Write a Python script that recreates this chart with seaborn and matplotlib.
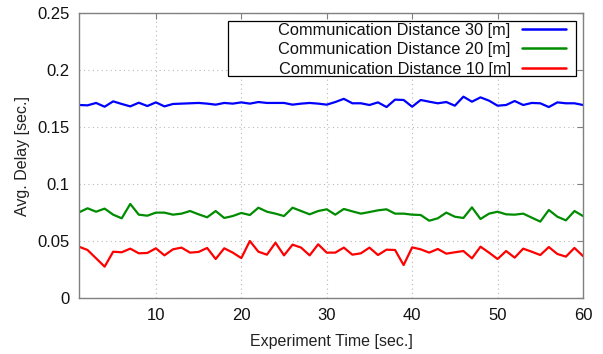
import numpy as np
import pandas as pd
import matplotlib
matplotlib.use("Agg")
import matplotlib.pyplot as plt
from matplotlib.patches import Rectangle
import seaborn as sns

time_sec = list(range(1, 61))

delay_30m = [0.1693, 0.1690, 0.1711, 0.1678, 0.1725, 0.1702, 0.1681, 0.1713, 0.1684, 0.1716,
             0.1681, 0.1702, 0.1705, 0.1708, 0.1711, 0.1705, 0.1696, 0.1711, 0.1705, 0.1716,
             0.1705, 0.1719, 0.1711, 0.1711, 0.1711, 0.1696, 0.1705, 0.1711, 0.1705, 0.1696,
             0.1719, 0.1747, 0.1708, 0.1708, 0.1693, 0.1716, 0.1675, 0.1740, 0.1737, 0.1678,
             0.1737, 0.1722, 0.1708, 0.1719, 0.1687, 0.1766, 0.1722, 0.1760, 0.1731, 0.1687,
             0.1693, 0.1728, 0.1693, 0.1711, 0.1708, 0.1675, 0.1716, 0.1708, 0.1708, 0.1693]

delay_20m = [0.0751, 0.0787, 0.0757, 0.0784, 0.0731, 0.0699, 0.0825, 0.0731, 0.0722, 0.0749,
             0.0749, 0.0731, 0.0740, 0.0763, 0.0734, 0.0708, 0.0763, 0.0702, 0.0719, 0.0746,
             0.0728, 0.0792, 0.0757, 0.0740, 0.0719, 0.0792, 0.0763, 0.0734, 0.0763, 0.0778,
             0.0731, 0.0781, 0.0760, 0.0740, 0.0754, 0.0769, 0.0778, 0.0740, 0.0740, 0.0731,
             0.0728, 0.0678, 0.0699, 0.0749, 0.0713, 0.0702, 0.0795, 0.0693, 0.0740, 0.0757,
             0.0734, 0.0731, 0.0740, 0.0705, 0.0670, 0.0772, 0.0713, 0.0681, 0.0763, 0.0719]

delay_10m = [0.0450, 0.0421, 0.0348, 0.0275, 0.0406, 0.0401, 0.0433, 0.0392, 0.0395, 0.0436,
             0.0374, 0.0427, 0.0442, 0.0398, 0.0404, 0.0439, 0.0342, 0.0436, 0.0398, 0.0350,
             0.0500, 0.0406, 0.0380, 0.0485, 0.0374, 0.0468, 0.0442, 0.0374, 0.0471, 0.0398,
             0.0398, 0.0442, 0.0380, 0.0392, 0.0442, 0.0377, 0.0424, 0.0421, 0.0289, 0.0444,
             0.0427, 0.0398, 0.0430, 0.0389, 0.0401, 0.0412, 0.0348, 0.0450, 0.0398, 0.0342,
             0.0412, 0.0354, 0.0433, 0.0406, 0.0377, 0.0447, 0.0386, 0.0363, 0.0439, 0.0368]

series_names = ["Communication Distance 30 [m]",
                "Communication Distance 20 [m]",
                "Communication Distance 10 [m]"]
series_colors = ["#0000ff", "#008c00", "#ff0000"]

x_ticks = [10, 20, 30, 40, 50, 60]
y_ticks = [0, 0.05, 0.1, 0.15, 0.2, 0.25]
y_tick_labels = ["0", "0.05", "0.1", "0.15", "0.2", "0.25"]

df = pd.concat([
    pd.DataFrame({"time": time_sec, "delay": vals, "series": name})
    for name, vals in zip(series_names, [delay_30m, delay_20m, delay_10m])
], ignore_index=True)

sns.set_theme(style="white")
plt.rcParams["font.family"] = ["Liberation Sans", "DejaVu Sans"]

fig = plt.figure(figsize=(6.03, 3.54), dpi=100)
ax = fig.add_axes([79 / 603, 56 / 354, 504 / 603, 285 / 354])

sns.lineplot(data=df, x="time", y="delay", hue="series", hue_order=series_names,
             palette=series_colors, linewidth=1.6, ax=ax, legend=True)

ax.set_xlim(1, 60)
ax.set_ylim(0, 0.25)
ax.set_xticks(x_ticks)
ax.set_yticks(y_ticks)
ax.set_yticklabels(y_tick_labels)
ax.set_xlabel("Experiment Time [sec.]", fontsize=11.5, color="#222222", labelpad=8)
ax.set_ylabel("Avg. Delay [sec.]", fontsize=11.5, color="#222222", labelpad=5)

ax.grid(True, color="#b8b8b8", linestyle=(0, (1, 3)), linewidth=0.8)
for s in ax.spines.values():
    s.set_color("#808080")
    s.set_linewidth(1.0)
ax.tick_params(axis="both", which="both", direction="in", length=4, width=0.8,
               color="#808080", top=True, right=True, labelsize=12,
               labelcolor="#111111", pad=7)

leg = ax.legend(loc="upper right", bbox_to_anchor=(0.966, 0.966), markerfirst=False,
                frameon=False, fontsize=11.8, handlelength=2.7,
                borderpad=0.0, labelspacing=0.27, handletextpad=0.67,
                borderaxespad=0.0)
leg.set_zorder(6)
for t in leg.get_texts():
    t.set_ha("right")
    t.set_color("#111111")
for h in leg.get_lines():
    h.set_linewidth(1.8)

# legend frame (wider box, gnuplot style)
frame = Rectangle((0.296, 0.779), 0.986 - 0.296, 0.973 - 0.779, transform=ax.transAxes,
                  facecolor="white", edgecolor="#000000", linewidth=0.9, zorder=5)
ax.add_patch(frame)

fig.savefig("out.png", dpi=100)
